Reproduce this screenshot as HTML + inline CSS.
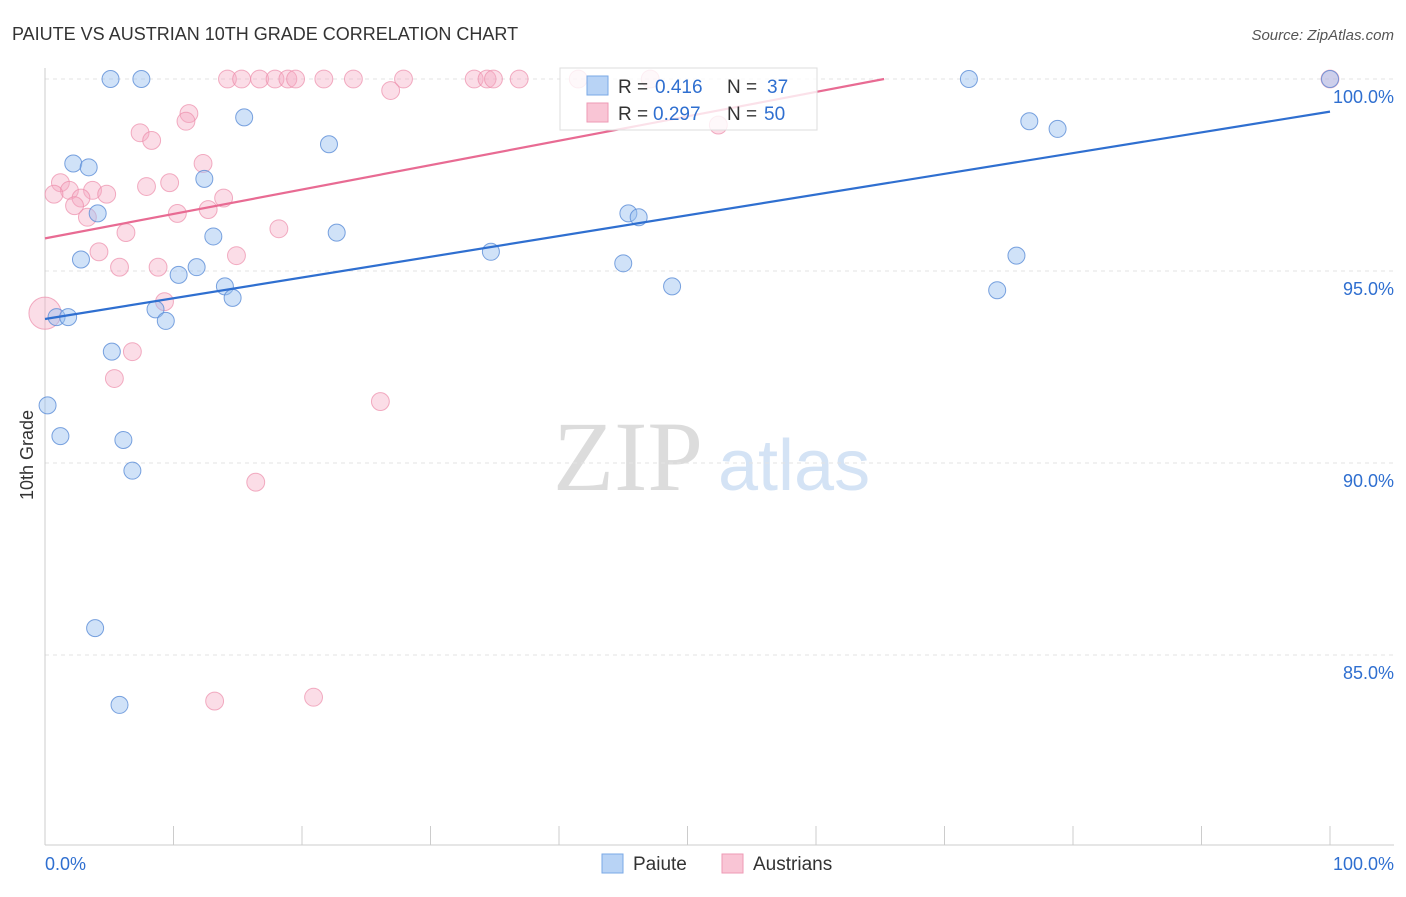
<!DOCTYPE html>
<html><head><meta charset="utf-8"><style>
body{margin:0;background:#fff;font-family:"Liberation Sans",sans-serif;}
</style></head><body>
<svg id="c" width="1406" height="892" font-family="Liberation Sans, sans-serif">
<text x="12" y="40" font-size="18" fill="#333">PAIUTE VS AUSTRIAN 10TH GRADE CORRELATION CHART</text>
<text x="1394" y="40" font-size="15" fill="#555" font-style="italic" text-anchor="end">Source: ZipAtlas.com</text>
<text x="33" y="455" font-size="18" fill="#333" text-anchor="middle" transform="rotate(-90 33 455)">10th Grade</text>
<text x="553" y="490" font-size="100" fill="#dcdcdc" style="font-family:'Liberation Serif',serif">ZIP</text>
<text x="718" y="490" font-size="72" fill="#d4e3f5">atlas</text>
<g id="grid"></g><g id="marks"></g>
<g>
<rect x="560" y="68" width="257" height="62" fill="#fff" fill-opacity="0.8" stroke="#ddd"/>
<rect x="587" y="76" width="21" height="19" fill="#b8d3f5" stroke="#7aa8e6"/>
<rect x="587" y="103" width="21" height="19" fill="#f9c5d5" stroke="#ee9ab5"/>
<text x="618" y="93" font-size="19" fill="#333">R =</text>
<text x="655" y="93" font-size="19" fill="#2f6fd0">0.416</text>
<text x="727" y="93" font-size="19" fill="#333">N =</text>
<text x="767" y="93" font-size="19" fill="#2f6fd0">37</text>
<text x="618" y="120" font-size="19" fill="#333">R =</text>
<text x="653" y="120" font-size="19" fill="#2f6fd0">0.297</text>
<text x="727" y="120" font-size="19" fill="#333">N =</text>
<text x="764" y="120" font-size="19" fill="#2f6fd0">50</text>
</g>
<g>
<rect x="602" y="854" width="21" height="19" fill="#b8d3f5" stroke="#7aa8e6"/>
<text x="633" y="870" font-size="19" fill="#333">Paiute</text>
<rect x="722" y="854" width="21" height="19" fill="#f9c5d5" stroke="#ee9ab5"/>
<text x="753" y="870" font-size="19" fill="#333">Austrians</text>
</g>
</svg>
<script>
const yTicks=[100,95,90,85];
const xTickLabels=["0.0%","100.0%"];
const blueX=[5.1,7.5,15.5,22.1,2.2,3.4,4.1,12.4,13.1,22.7,2.8,10.4,11.8,14,14.6,8.6,9.4,0.9,1.8,5.2,0.2,1.2,6.1,6.8,3.9,5.8,34.7,45.4,46.2,45,48.8,71.9,76.6,78.8,75.6,74.1,100];
const blueY=[100,100,99,98.3,97.8,97.7,96.5,97.4,95.9,96,95.3,94.9,95.1,94.6,94.3,94,93.7,93.8,93.8,92.9,91.5,90.7,90.6,89.8,85.7,83.7,95.5,96.5,96.4,95.2,94.6,100,98.9,98.7,95.4,94.5,100];
const pinkX=[14.2,15.3,16.7,17.9,18.9,19.5,21.7,24,27.9,33.4,34.4,34.9,36.9,41.5,47.1,100,26.9,11.2,10.97,7.4,8.3,12.3,1.2,1.9,0.7,3.7,4.8,2.8,2.3,3.3,7.9,9.7,13.9,12.7,10.3,6.3,18.2,4.2,14.9,5.8,8.8,9.3,0,6.8,5.4,26.1,16.4,13.2,20.9,52.4];
const pinkY=[100,100,100,100,100,100,100,100,100,100,100,100,100,100,100,100,99.7,99.1,98.9,98.6,98.4,97.8,97.3,97.1,97,97.1,97,96.9,96.7,96.4,97.2,97.3,96.9,96.6,96.5,96,96.1,95.5,95.4,95.1,95.1,94.2,93.9,92.9,92.2,91.6,89.5,83.8,83.9,98.8];
const pinkR=[10,10,10,10,10,10,10,10,10,10,10,10,10,10,10,10,10,10,10,10,10,10,10,10,10,10,10,10,10,10,10,10,10,10,10,10,10,10,10,10,10,10,18,10,10,10,10,10,10,10];
const blueLine=[93.75,99.15];
const pinkLine=[95.85,100];const pinkLineEndX=65.3;
const X=v=>45+v*12.85, Y=v=>79+(100-v)*38.4;
const ns="http://www.w3.org/2000/svg";
const grid=document.getElementById('grid'),marks=document.getElementById('marks');
function mk(tag,at,parent){const e=document.createElementNS(ns,tag);for(const k in at)e.setAttribute(k,at[k]);parent.appendChild(e);return e;}
yTicks.forEach(t=>{
 const l=mk('line',{x1:45,x2:1394,y1:Y(t),y2:Y(t),stroke:'#e3e3e3','stroke-dasharray':'4,4'},grid);
 
 
 const tx=mk('text',{x:1394,y:Y(t)+24,'font-size':18,fill:'#2f6fd0','text-anchor':'end'},grid);tx.textContent=t.toFixed(1)+'%';
 
 
});
const ax=mk('line',{x1:45,x2:45,y1:68,y2:845,stroke:'#ccc'},grid);


const bx=mk('line',{x1:45,x2:1394,y1:845,y2:845,stroke:'#ccc'},grid);


for(let i=0;i<=10;i++){const t=mk('line',{x1:X(i*10),x2:X(i*10),y1:826,y2:845,stroke:'#ccc'},grid);
 
 }
[[0,'start',45],[1,'end',1394]].forEach(([i,a,x])=>{const t=mk('text',{x:x,y:870,'font-size':18,fill:'#2f6fd0','text-anchor':a},grid);t.textContent=xTickLabels[i];
 
 });
pinkX.forEach((v,i)=>{const c=mk('circle',{cx:X(v),cy:Y(pinkY[i]),r:pinkR[i]/1.12,fill:'rgba(246,170,195,0.4)',stroke:'rgba(236,140,170,0.7)'},marks);
 
 });
blueX.forEach((v,i)=>{const c=mk('circle',{cx:X(v),cy:Y(blueY[i]),r:8.5,fill:'rgba(150,190,240,0.45)',stroke:'rgba(90,140,215,0.8)'},marks);
 
 });
const bl=mk('line',{x1:X(0),y1:Y(blueLine[0]),x2:X(100),y2:Y(blueLine[1]),stroke:'#2f6fd0','stroke-width':2.2},marks);


const pl=mk('line',{x1:X(0),y1:Y(pinkLine[0]),x2:X(pinkLineEndX),y2:Y(pinkLine[1]),stroke:'#e86b93','stroke-width':2.2},marks);


</script>
</body></html>
